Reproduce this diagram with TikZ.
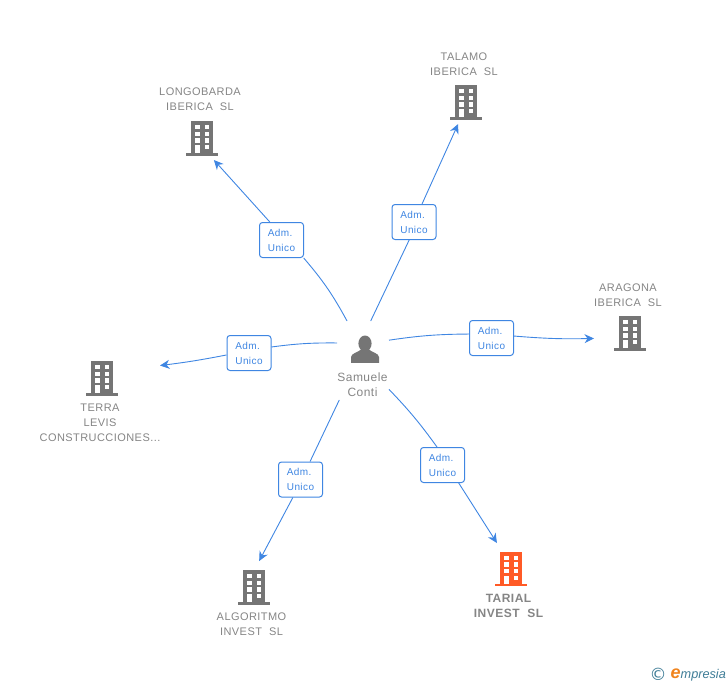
\documentclass[tikz,border=0pt]{standalone}
\usepackage{fontspec}
\setmainfont{Liberation Sans}[LetterSpace=4]
\newfontfamily\logofont{Liberation Sans}
\newfontfamily\logoshape{DejaVu Sans}
\usetikzlibrary{arrows.meta}

\definecolor{linkblue}{HTML}{3F86E2}
\definecolor{labelgray}{HTML}{858585}
\definecolor{bldggray}{HTML}{757575}
\definecolor{bldgorange}{HTML}{FF5A26}
\definecolor{logoteal}{HTML}{3E7C96}
\definecolor{logoorange}{HTML}{F0841E}

\tikzset{
    link/.style={draw=linkblue, line width=0.9pt},
    linkarrow/.style={link, -{Stealth[length=9.5pt,width=9pt]}},
    rolebox/.style={draw=linkblue, line width=1pt, fill=white, rounded corners=3pt, minimum width=44pt,
        minimum height=35pt, inner sep=0pt, text=linkblue, align=left, font=\fontsize{10}{15}\selectfont},
    company/.style={inner sep=0pt, outer sep=0pt},
    namelabel/.style={text=labelgray, align=center, inner sep=0pt, font=\fontsize{11}{15}\selectfont},
    bldg/.pic={
        \fill[pic actions] (-11,-17) rectangle (11,15);
        \fill[pic actions] (-16,15) rectangle (16,17.5);
        \foreach \rowy in {-13,-6.3,0.3} {
            \fill[white] (-7,\rowy) rectangle +(4.6,4.4);
            \fill[white] (2.7,\rowy) rectangle +(4.6,4.4);
        }
        \fill[white] (-7,7) rectangle (-2.4,15);
        \fill[white] (2.7,7) rectangle (7.3,11.4);
    }
}

\begin{document}
\begin{tikzpicture}[x=1pt, y=-1pt]
    \useasboundingbox (0,0) rectangle (728,685);

    % person
    \node[company, minimum width=52pt, minimum height=79pt] (samuele) at (363,360.5) {};
    \fill[bldggray] (365,343.5) ellipse (6.6 and 8);
    \fill[bldggray] (351,362.8) -- (351,357) .. controls (351.5,353) and (358,352.5) .. (361,349.5)
        -- (369,349.5) .. controls (372,352.5) and (378.5,353) .. (379,357) -- (379,362.8) -- cycle;
    \node[namelabel, font=\fontsize{12}{15}\selectfont] (samuelename) at (362.5,384.5) {Samuele\\Conti};

    % companies
    \node[company, minimum width=81pt, minimum height=75pt] (longobarda) at (199.5,122.5) {};
    \node[company, minimum width=68pt, minimum height=74pt] (talamo) at (464,87) {};
    \node[company, minimum width=68pt, minimum height=69pt] (aragona) at (628,315.5) {};
    \node[company, minimum width=120pt, minimum height=84pt] (terra) at (100,403) {};
    \node[company, minimum width=73pt, minimum height=79pt] (algoritmo) at (251.5,600.5) {};
    \node[company, minimum width=72pt, minimum height=79pt] (tarial) at (509,582.5) {};

    \pic[fill=bldggray] at (202,138) {bldg};
    \pic[fill=bldggray] at (466,102) {bldg};
    \pic[fill=bldggray] at (630,333) {bldg};
    \pic[fill=bldggray] at (102,378) {bldg};
    \pic[fill=bldggray] at (254,587) {bldg};
    \pic[fill=bldgorange] at (511,568.5) {bldg};

    \node[namelabel] (longobardaname) at (200,99.5) {LONGOBARDA\\IBERICA\ \ SL};
    \node[namelabel] (talamoname) at (464,64) {TALAMO\\IBERICA\ \ SL};
    \node[namelabel] (aragonaname) at (628,295) {ARAGONA\\IBERICA\ \ SL};
    \node[namelabel] (terraname) at (100,422.7) {TERRA\\LEVIS\\CONSTRUCCIONES...};
    \node[namelabel] (algoritmoname) at (251.5,624) {ALGORITMO\\INVEST\ \ SL};
    \node[namelabel, font=\fontsize{12}{15}\bfseries] (tarialname) at (508.5,605.5) {TARIAL\\INVEST\ \ SL};

    % roles
    \node[rolebox] (longobardarole) at (281.5,240) {Adm.\\Unico};
    \node[rolebox] (talamorole) at (414,222) {Adm.\\Unico};
    \node[rolebox] (aragonarole) at (491.5,338) {Adm.\\Unico};
    \node[rolebox] (terrarole) at (249,353) {Adm.\\Unico};
    \node[rolebox] (algoritmorole) at (300.5,479.5) {Adm.\\Unico};
    \node[rolebox] (tarialrole) at (442.5,465) {Adm.\\Unico};

    % links
    \draw[link] (samuele.112) to[bend right=6] (longobardarole.-39);
    \draw[linkarrow] (longobardarole.123) -- (longobarda.-69);
    \draw[link] (samuele.79) -- (talamorole.-105);
    \draw[linkarrow] (talamorole.66) -- (talamo.-99);
    \draw[link] (samuele.38) to[bend left=4] (aragonarole.170);
    \draw[linkarrow] (aragonarole.5) to[bend right=3] (aragona.-146);
    \draw[link] (samuele.146) to[bend right=4] (terrarole.15);
    \draw[linkarrow] (terrarole.185) to[bend left=2] (terra.32);
    \draw[link] (samuele.-121) -- (algoritmorole.62);
    \draw[linkarrow] (algoritmorole.-113) -- (algoritmo.79);
    \draw[link] (samuele.-48) to[bend left=4] (tarialrole.107);
    \draw[linkarrow] (tarialrole.-48) -- (tarial.107);

    % logo
    \node[inner sep=0pt, text=logoteal, font=\logoshape\fontsize{17}{17}\selectfont] (logosign) at (658,674) {©};
    \node[inner sep=0pt, anchor=base west, text=logoteal, font=\logofont\itshape\fontsize{12.7}{13}\selectfont] (logotext) at (670.5,678)
        {\textcolor{logoorange}{\bfseries\fontsize{18}{18}\selectfont e}mpresia};
\end{tikzpicture}
\end{document}
